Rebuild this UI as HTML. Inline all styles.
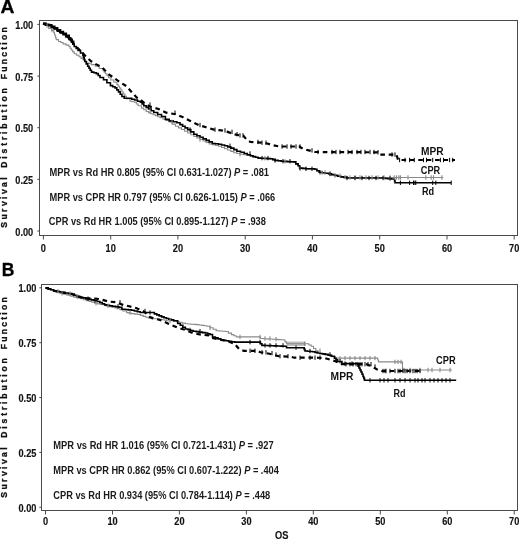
<!DOCTYPE html><html><head><meta charset="utf-8"><style>
    html,body{margin:0;padding:0;background:#fff;}
    svg{display:block;will-change:transform;}
    .tk{font-family:"Liberation Sans",sans-serif;font-size:10.40px;font-weight:bold;fill:#111;stroke:#111;stroke-width:0.15px;}
    .ax{stroke:#4a4a4a;stroke-width:1;fill:none;}
    .an{font-family:"Liberation Sans",sans-serif;font-size:10.2px;font-weight:bold;fill:#1a1a1a;}
    .lb{font-family:"Liberation Sans",sans-serif;font-size:10px;font-weight:bold;fill:#111;}
    .yl{font-family:"Liberation Sans",sans-serif;font-size:8.6px;font-weight:bold;fill:#111;stroke:#111;stroke-width:0.3px;}
    .pl{font-family:"Liberation Sans",sans-serif;font-size:17px;font-weight:bold;fill:#000;}
    .rd{stroke:#000;stroke-width:1.6;fill:none;stroke-linejoin:miter;}
    .mpr{stroke:#000;stroke-width:2.2;fill:none;stroke-dasharray:4.6 3.8;}
    .cpr{stroke:#8a8a8a;stroke-width:1.1;fill:none;}
    .ct{stroke:#8a8a8a;stroke-width:1.1;fill:none;}
    .ck{stroke:#000;stroke-width:1;fill:none;}
    </style></head><body>
<svg width="520" height="539" viewBox="0 0 520 539">
<text transform="translate(0.4,13.1) scale(1.07,1)" class="pl" style="font-size:18px;stroke:#000;stroke-width:0.3px">A</text>
<text x="1.7" y="275.9" class="pl" style="font-size:17.5px;stroke:#000;stroke-width:0.3px">B</text>
<rect x="39.5" y="20.5" width="478" height="215" class="ax" stroke-width="1.2"/>
<rect x="41.5" y="284.5" width="476" height="226" class="ax" stroke-width="1.2"/>
<text x="33.2" y="235.5" class="tk" text-anchor="end" textLength="17.91" lengthAdjust="spacingAndGlyphs">0.00</text>
<path d="M37.3 231.0 H39.5" class="ax"/>
<text x="33.2" y="183.8" class="tk" text-anchor="end" textLength="17.91" lengthAdjust="spacingAndGlyphs">0.25</text>
<path d="M37.3 179.3 H39.5" class="ax"/>
<text x="33.2" y="132.2" class="tk" text-anchor="end" textLength="17.91" lengthAdjust="spacingAndGlyphs">0.50</text>
<path d="M37.3 127.7 H39.5" class="ax"/>
<text x="33.2" y="80.6" class="tk" text-anchor="end" textLength="17.91" lengthAdjust="spacingAndGlyphs">0.75</text>
<path d="M37.3 76.1 H39.5" class="ax"/>
<text x="33.2" y="28.9" class="tk" text-anchor="end" textLength="17.91" lengthAdjust="spacingAndGlyphs">1.00</text>
<path d="M37.3 24.4 H39.5" class="ax"/>
<path d="M43.4 235.5 V239.5" class="ax"/>
<text x="43.4" y="251.6" class="tk" text-anchor="middle" textLength="5.12" lengthAdjust="spacingAndGlyphs">0</text>
<path d="M110.7 235.5 V239.5" class="ax"/>
<text x="110.7" y="251.6" class="tk" text-anchor="middle" textLength="10.23" lengthAdjust="spacingAndGlyphs">10</text>
<path d="M177.9 235.5 V239.5" class="ax"/>
<text x="177.9" y="251.6" class="tk" text-anchor="middle" textLength="10.23" lengthAdjust="spacingAndGlyphs">20</text>
<path d="M245.2 235.5 V239.5" class="ax"/>
<text x="245.2" y="251.6" class="tk" text-anchor="middle" textLength="10.23" lengthAdjust="spacingAndGlyphs">30</text>
<path d="M312.4 235.5 V239.5" class="ax"/>
<text x="312.4" y="251.6" class="tk" text-anchor="middle" textLength="10.23" lengthAdjust="spacingAndGlyphs">40</text>
<path d="M379.7 235.5 V239.5" class="ax"/>
<text x="379.7" y="251.6" class="tk" text-anchor="middle" textLength="10.23" lengthAdjust="spacingAndGlyphs">50</text>
<path d="M447.0 235.5 V239.5" class="ax"/>
<text x="447.0" y="251.6" class="tk" text-anchor="middle" textLength="10.23" lengthAdjust="spacingAndGlyphs">60</text>
<path d="M514.2 235.5 V239.5" class="ax"/>
<text x="514.2" y="251.6" class="tk" text-anchor="middle" textLength="10.23" lengthAdjust="spacingAndGlyphs">70</text>
<text x="36.4" y="511.8" class="tk" text-anchor="end" textLength="17.91" lengthAdjust="spacingAndGlyphs">0.00</text>
<path d="M39.3 507.3 H41.5" class="ax"/>
<text x="36.4" y="456.9" class="tk" text-anchor="end" textLength="17.91" lengthAdjust="spacingAndGlyphs">0.25</text>
<path d="M39.3 452.4 H41.5" class="ax"/>
<text x="36.4" y="402.1" class="tk" text-anchor="end" textLength="17.91" lengthAdjust="spacingAndGlyphs">0.50</text>
<path d="M39.3 397.6 H41.5" class="ax"/>
<text x="36.4" y="347.2" class="tk" text-anchor="end" textLength="17.91" lengthAdjust="spacingAndGlyphs">0.75</text>
<path d="M39.3 342.7 H41.5" class="ax"/>
<text x="36.4" y="292.3" class="tk" text-anchor="end" textLength="17.91" lengthAdjust="spacingAndGlyphs">1.00</text>
<path d="M39.3 287.8 H41.5" class="ax"/>
<path d="M45.5 510.5 V514.5" class="ax"/>
<text x="45.5" y="525.0" class="tk" text-anchor="middle" textLength="5.12" lengthAdjust="spacingAndGlyphs">0</text>
<path d="M112.5 510.5 V514.5" class="ax"/>
<text x="112.5" y="525.0" class="tk" text-anchor="middle" textLength="10.23" lengthAdjust="spacingAndGlyphs">10</text>
<path d="M179.4 510.5 V514.5" class="ax"/>
<text x="179.4" y="525.0" class="tk" text-anchor="middle" textLength="10.23" lengthAdjust="spacingAndGlyphs">20</text>
<path d="M246.4 510.5 V514.5" class="ax"/>
<text x="246.4" y="525.0" class="tk" text-anchor="middle" textLength="10.23" lengthAdjust="spacingAndGlyphs">30</text>
<path d="M313.3 510.5 V514.5" class="ax"/>
<text x="313.3" y="525.0" class="tk" text-anchor="middle" textLength="10.23" lengthAdjust="spacingAndGlyphs">40</text>
<path d="M380.3 510.5 V514.5" class="ax"/>
<text x="380.3" y="525.0" class="tk" text-anchor="middle" textLength="10.23" lengthAdjust="spacingAndGlyphs">50</text>
<path d="M447.3 510.5 V514.5" class="ax"/>
<text x="447.3" y="525.0" class="tk" text-anchor="middle" textLength="10.23" lengthAdjust="spacingAndGlyphs">60</text>
<path d="M514.2 510.5 V514.5" class="ax"/>
<text x="514.2" y="525.0" class="tk" text-anchor="middle" textLength="10.23" lengthAdjust="spacingAndGlyphs">70</text>
<text class="yl" transform="translate(7.3,227.70) rotate(-90)" textLength="50.40" lengthAdjust="spacing">Survival</text>
<text class="yl" transform="translate(7.3,167.70) rotate(-90)" textLength="79.45" lengthAdjust="spacing">Distribution</text>
<text class="yl" transform="translate(7.3,79.25) rotate(-90)" textLength="51.95" lengthAdjust="spacing">Function</text>
<text class="yl" transform="translate(7.3,497.70) rotate(-90)" textLength="50.40" lengthAdjust="spacing">Survival</text>
<text class="yl" transform="translate(7.3,437.70) rotate(-90)" textLength="79.45" lengthAdjust="spacing">Distribution</text>
<text class="yl" transform="translate(7.3,349.25) rotate(-90)" textLength="51.95" lengthAdjust="spacing">Function</text>
<text x="275" y="539.3" class="tk" style="font-size:10.4px" textLength="13.4" lengthAdjust="spacingAndGlyphs">OS</text>
<path class="cpr" d="M43.0 23.5H45.8 V25.5H48.7 V28.4H51.5 V30.1H53.8 V32.5H54.4 V34.2H55.0 V36.0H55.6 V37.8H56.2 V39.6H58.5 V41.5H60.8 V42.5H63.1 V43.9H66.0 V45.1H68.9 V46.5H70.1 V48.2H71.2 V50.0H72.7 V51.9H74.2 V53.8H76.6 V55.2H79.0 V56.7H81.0 V58.4H83.1 V60.0H85.0 V61.5H86.9 V63.1H89.2 V63.8H91.5 V64.6H95.4 V66.2H99.2 V68.5H103.1 V70.8H104.2 V72.3H105.4 V73.8H107.0 V75.8H108.5 V77.7H110.8 V80.0H113.8 V82.3H116.9 V84.6H118.2 V86.3H119.5 V88.0H120.8 V90.0H122.0 V92.0H123.3 V94.0H124.9 V96.4H126.5 V98.8H130.0 V101.2H132.3 V101.8H134.6 V102.3H136.3 V104.0H138.1 V105.8H141.5 V108.1H143.8 V109.8H146.2 V111.5H148.5 V112.7H150.8 V113.8H153.1 V114.7H155.4 V115.6H157.7 V116.7H160.0 V117.8H163.1 V119.2H166.1 V120.5H169.2 V121.9H172.3 V124.1H175.4 V126.3H178.4 V127.9H181.5 V129.5H184.6 V131.3H187.7 V133.0H190.8 V134.8H193.9 V136.4H196.9 V137.9H200.0 V139.5H203.1 V141.0H206.1 V142.5H209.2 V144.0H212.3 V144.8H215.4 V145.5H218.5 V146.3H221.6 V147.5H224.6 V148.8H227.7 V150.0H230.8 V151.4H233.8 V152.8H236.9 V153.5H240.0 V154.2H243.5 V154.8H246.9 V155.4H250.4 V156.0H253.0 V156.8H255.5 V157.5H258.1 V158.3H261.2 V158.5H264.2 V158.7H267.3 V158.8H270.4 V159.0H272.7 V159.8H275.0 V160.6H278.1 V161.0H281.2 V161.4H284.3 V161.6H287.4 V161.8H290.4 V161.9H293.5 V162.1H295.8 V164.1H298.1 V166.0H299.6 V168.3H302.7 V168.7H305.8 V169.0H314.6 V169.4H316.9 V170.9H319.2 V172.5H322.3 V173.0H325.4 V173.5H328.5 V174.0H331.6 V174.8H334.6 V175.6H337.7 V176.3H340.8 V177.1H346.9 V177.5H443.4 V177.5"/>
<path class="rd" d="M43.0 23.5H45.8 V24.9H48.7 V25.5H51.5 V27.2H54.4 V29.0H57.3 V31.3H60.2 V33.0H63.1 V34.7H66.0 V37.0H68.9 V39.4H71.5 V42.0H72.8 V44.2H74.2 V46.5H76.2 V48.5H78.1 V50.5H80.5 V53.0H82.9 V55.5H83.5 V57.5H84.2 V59.5H84.8 V61.5H86.2 V63.9H87.7 V66.3H89.0 V68.2H90.2 V70.2H91.5 V72.1H93.9 V72.8H96.3 V73.6H98.2 V75.5H100.0 V77.5H103.5 V79.8H106.9 V82.7H110.4 V85.6H112.7 V86.8H115.0 V87.9H116.8 V89.9H118.5 V91.9H120.2 V94.2H121.9 V96.5H124.2 V98.3H128.8 V98.3H131.7 V99.2H134.6 V100.0H137.5 V101.2H140.4 V102.3H142.1 V104.0H143.8 V105.8H146.2 V107.4H148.5 V109.0H151.2 V110.8H153.8 V112.5H157.7 V114.5H161.5 V116.5H165.4 V119.4H169.2 V120.9H173.1 V121.7H176.9 V122.8H180.0 V124.6H182.6 V126.3H185.1 V127.9H187.7 V129.6H190.8 V131.9H193.8 V134.2H196.9 V135.8H200.0 V137.3H203.1 V138.9H206.2 V140.4H209.2 V141.9H212.3 V143.5H215.4 V143.8H218.5 V144.2H221.6 V145.0H224.6 V145.8H227.7 V146.9H230.8 V148.1H233.9 V149.6H236.9 V151.2H240.6 V152.3H244.2 V153.5H247.3 V154.7H250.4 V155.8H253.0 V156.6H255.5 V157.3H258.1 V158.1H261.2 V158.3H264.2 V158.4H267.3 V158.6H270.4 V158.8H272.7 V159.6H275.0 V160.4H278.1 V160.8H281.2 V161.2H284.3 V161.4H287.4 V161.6H290.4 V161.7H293.5 V161.9H295.8 V163.9H298.1 V165.8H299.6 V168.1H302.7 V168.4H305.8 V168.8H314.6 V169.2H316.9 V170.8H319.2 V172.3H322.3 V172.8H325.4 V173.3H328.5 V173.8H331.6 V174.6H334.6 V175.4H337.7 V176.2H340.8 V176.9H343.9 V177.4H346.9 V178.0H385.0 V178.5H388.1 V178.7H391.1 V179.0H394.2 V179.2H394.6 V181.0H395.0 V182.8H451.2 V182.8"/>
<path class="mpr" d="M43.0 23.5 L45.8 24.6 L48.7 25.2 L51.5 26.5 L54.4 28.1 L57.3 30.0 L60.2 31.8 L63.1 33.5 L66.0 35.5 L68.9 38.0 L73.3 43.2 L77.1 47.5 L81.9 52.2 L86.7 57.4 L91.5 61.5 L96.3 64.4 L102.1 67.3 L104.6 70.0 L109.2 74.6 L115.0 78.7 L120.8 82.7 L126.5 86.2 L130.0 90.2 L133.5 94.2 L136.9 97.7 L141.5 100.6 L146.2 104.6 L150.8 106.9 L157.7 108.7 L160.0 109.6 L166.2 112.7 L175.4 114.2 L183.1 117.3 L190.8 121.2 L198.5 125.0 L206.2 127.3 L213.8 129.6 L221.5 130.4 L227.7 131.9 L233.8 134.2 L240.0 135.4 L243.5 135.8 L246.5 139.6 L250.4 141.9 L261.2 142.7 L267.3 143.5 L271.9 145.0 L279.6 146.5 L299.6 146.5 L302.7 148.8 L308.8 150.4 L315.0 152.0 L377.7 152.3 L379.2 154.6 L396.5 154.6 L398.1 160.0 L455.0 160.0"/>
<path class="rd" style="stroke-width:2.2" d="M43.0 23.5H45.8 V24.6H48.7 V25.2H51.5 V26.5H54.4 V28.1H57.3 V30.0H60.2 V31.8H63.1 V33.5H66.0 V35.5H68.9 V38.0H70.4 V39.7H71.8 V41.5H73.3 V43.2"/>
<path class="ct" d="M47.0 23.3 V27.7M52.0 27.9 V32.3M150.0 109.3 V113.7M172.0 119.7 V124.1M200.0 137.3 V141.7M240.0 152.0 V156.4M265.0 156.1 V160.5M285.0 159.2 V163.6M300.0 166.1 V170.5M322.0 170.3 V174.7M325.0 170.3 V174.7M330.0 171.8 V176.2M335.0 173.4 V177.8M340.0 173.4 V177.8M345.0 174.9 V179.3M350.0 175.3 V179.7M355.0 175.3 V179.7M360.0 175.3 V179.7M366.0 175.3 V179.7M372.0 175.3 V179.7M378.0 175.3 V179.7M384.0 175.3 V179.7M390.0 175.3 V179.7M394.2 175.3 V179.7M396.5 175.3 V179.7M398.8 175.3 V179.7M400.4 175.3 V179.7M408.0 175.3 V179.7M425.8 175.3 V179.7M431.2 175.3 V179.7M433.5 175.3 V179.7M441.9 175.3 V179.7"/>
<path class="ck" d="M190.0 127.4 V131.8M230.0 143.6 V148.0M250.0 151.3 V155.7M262.0 155.9 V160.3M268.0 155.9 V160.3M275.0 158.2 V162.6M283.0 159.0 V163.4M290.0 159.0 V163.4M300.0 165.9 V170.3M306.0 166.6 V171.0M312.0 166.6 V171.0M320.0 170.1 V174.5M330.0 171.6 V176.0M347.0 175.8 V180.2M355.0 175.8 V180.2M362.0 175.8 V180.2M369.0 175.8 V180.2M376.0 175.8 V180.2M383.0 175.8 V180.2M390.0 176.3 V180.7M400.4 180.6 V185.0M409.6 180.6 V185.0M413.5 180.6 V185.0M415.0 180.6 V185.0M415.8 180.6 V185.0M432.7 180.6 V185.0M435.8 180.6 V185.0M451.2 180.6 V185.0M150.0 102.4 V106.8M175.0 110.5 V114.9M200.0 122.8 V127.2M215.0 127.4 V131.8M225.0 128.2 V132.6M232.0 129.7 V134.1M237.0 132.0 V136.4M240.0 133.2 V137.6M243.0 133.2 V137.6M258.0 139.7 V144.1M262.0 140.5 V144.9M266.0 140.5 V144.9M282.0 144.3 V148.7M287.0 144.3 V148.7M291.0 144.3 V148.7M296.0 144.3 V148.7M300.0 144.3 V148.7M312.0 148.2 V152.6M318.0 149.8 V154.2M332.0 149.8 V154.2M336.0 149.8 V154.2M340.0 149.8 V154.2M348.0 149.8 V154.2M352.0 149.8 V154.2M357.0 149.8 V154.2M361.0 149.8 V154.2M365.0 149.8 V154.2M370.0 149.8 V154.2M374.0 149.8 V154.2M378.0 150.1 V154.5M392.0 152.4 V156.8M395.0 152.4 V156.8M399.6 157.8 V162.2M405.0 157.8 V162.2M409.6 157.8 V162.2M414.2 157.8 V162.2M423.5 157.8 V162.2M426.5 157.8 V162.2M432.7 157.8 V162.2M440.4 157.8 V162.2M443.5 157.8 V162.2M449.6 157.8 V162.2M452.7 157.8 V162.2"/>
<path class="cpr" d="M45.5 287.7H48.2 V288.9H50.8 V290.0H53.5 V291.2H56.8 V292.3H60.0 V293.4H63.5 V294.3H66.9 V295.3H70.4 V296.2H73.9 V297.1H77.3 V297.9H80.8 V298.8H83.6 V299.7H86.3 V300.6H89.1 V301.4H91.8 V302.3H94.6 V303.2H97.7 V303.9H100.8 V304.5H105.0 V305.8H109.4 V306.6H111.8 V307.2H114.2 V307.8H117.1 V308.7H120.0 V309.6H122.9 V311.0H126.7 V312.6H129.1 V313.1H131.5 V313.6H134.7 V314.1H137.9 V314.5H140.5 V315.4H143.2 V316.4H145.8 V317.3H148.7 V318.1H151.5 V318.8H159.2 V319.2H161.8 V319.7H164.3 V320.2H166.9 V320.7H173.7 V321.2H176.4 V321.8H179.2 V322.3H182.3 V323.1H185.4 V323.8H188.1 V324.0H190.8 V324.2H193.5 V324.4H196.2 V324.6H198.9 V325.0H201.6 V325.4H204.2 V325.8H206.9 V326.2H210.0 V327.7H213.1 V329.2H216.2 V330.8H219.3 V331.0H222.3 V331.3H225.4 V331.5H228.4 V333.1H231.5 V334.6H233.8 V335.8H236.2 V336.9H257.3 V336.9H260.4 V338.5H263.5 V338.7H266.5 V338.9H269.6 V339.0H272.7 V339.2H275.4 V339.4H278.1 V339.6H280.8 V339.8H283.5 V340.0H285.0 V341.9H286.5 V343.8H306.5 V343.8H308.9 V345.0H311.2 V346.2H313.5 V348.5H315.8 V350.8H318.1 V352.3H320.4 V353.8H323.3 V354.2H326.3 V354.6H329.2 V355.0H332.3 V356.6H335.4 V358.1H376.9 V358.1H377.7 V360.0H378.5 V361.9H402.5 V361.9H402.5 V363.9H402.5 V365.9H402.5 V368.0H402.5 V370.0H451.9 V370.0"/>
<path class="rd" d="M45.5 287.7H48.2 V288.7H50.8 V289.7H53.5 V290.7H56.4 V291.3H59.3 V291.9H62.2 V292.4H65.1 V293.0H68.5 V293.6H72.0 V294.1H74.3 V295.2H76.6 V296.4H79.7 V297.2H82.7 V297.9H85.8 V298.7H88.5 V299.3H91.2 V299.9H93.9 V300.5H96.8 V301.5H99.8 V302.5H102.2 V303.7H104.6 V304.9H107.2 V305.4H109.7 V305.8H112.3 V306.3H115.7 V306.8H119.0 V307.3H121.9 V309.2H125.1 V309.5H128.3 V309.9H131.5 V310.2H134.4 V311.0H137.3 V311.7H140.2 V312.5H151.5 V312.5H154.4 V313.9H156.8 V314.9H159.2 V315.9H161.6 V316.9H164.0 V317.8H166.4 V318.5H168.8 V319.2H171.2 V319.9H173.7 V320.7H177.7 V323.5H180.3 V325.3H182.8 V327.2H185.4 V329.0H188.0 V329.7H190.5 V330.5H193.1 V331.2H196.2 V331.6H199.2 V332.1H202.3 V332.6H205.4 V333.0H207.7 V333.8H210.0 V334.5H212.5 V337.0H215.3 V337.9H218.0 V338.9H220.8 V339.8H223.4 V340.3H225.9 V340.8H228.5 V341.3H231.6 V341.7H234.6 V342.1H258.8 V342.1H260.4 V343.8H261.9 V345.4H265.0 V345.5H268.1 V345.6H271.2 V345.7H274.2 V345.9H277.3 V346.0H280.4 V346.1H283.5 V346.2H286.5 V347.7H303.5 V347.7H304.2 V349.4H305.0 V351.0H307.6 V351.3H310.1 V351.5H312.7 V351.8H315.0 V352.4H317.3 V353.0H319.9 V353.5H322.4 V353.9H325.0 V354.4H328.1 V355.3H331.3 V356.2H334.4 V358.3H336.0 V359.9H337.6 V361.5H341.9 V363.6H357.5 V364.2H358.2 V366.1H359.0 V368.0H360.0 V370.0H361.0 V372.0H362.0 V374.2H363.0 V376.5H363.8 V378.4H364.5 V380.3H456.2 V380.3"/>
<path class="mpr" d="M45.5 287.7 L53.5 290.7 L65.1 293.0 L72.0 294.1 L76.6 296.4 L85.8 298.3 L95.0 298.5 L101.7 299.6 L108.5 301.5 L116.2 302.3 L122.3 304.6 L129.2 306.3 L136.1 308.0 L143.0 311.0 L147.0 314.0 L150.0 317.0 L154.4 318.8 L159.2 319.7 L164.0 321.6 L168.8 324.0 L173.7 326.0 L178.5 327.9 L185.4 330.0 L193.1 333.1 L200.8 334.6 L208.5 335.4 L211.5 337.7 L217.7 339.2 L228.5 341.5 L234.6 343.8 L239.2 349.2 L243.8 350.8 L257.3 350.8 L260.4 352.3 L266.5 353.1 L272.7 354.6 L278.8 356.2 L291.2 356.9 L294.2 357.7 L315.8 357.7 L325.0 358.1 L335.4 361.2 L341.5 364.2 L366.2 364.2 L372.3 366.5 L378.5 370.4 L381.5 371.0 L421.9 371.0"/>
<path class="ct" d="M58.0 289.0 V293.4M62.0 291.2 V295.6M70.0 291.2 V295.6M77.0 294.0 V298.4M96.0 301.0 V305.4M108.0 303.6 V308.0M130.0 310.4 V314.8M170.0 318.5 V322.9M210.0 325.5 V329.9M240.0 334.7 V339.1M260.0 334.7 V339.1M265.0 336.3 V340.7M270.0 336.3 V340.7M276.0 337.0 V341.4M288.0 341.6 V346.0M290.0 341.6 V346.0M292.0 341.6 V346.0M294.0 341.6 V346.0M296.0 341.6 V346.0M298.0 341.6 V346.0M300.0 341.6 V346.0M302.0 341.6 V346.0M304.0 341.6 V346.0M305.0 341.6 V346.0M320.0 348.6 V353.0M340.0 355.9 V360.3M345.0 355.9 V360.3M350.0 355.9 V360.3M355.0 355.9 V360.3M360.0 355.9 V360.3M365.0 355.9 V360.3M370.0 355.9 V360.3M375.0 355.9 V360.3M395.0 359.7 V364.1M398.0 359.7 V364.1M401.0 359.7 V364.1M404.0 367.8 V372.2M410.0 367.8 V372.2M420.0 367.8 V372.2M428.0 367.8 V372.2M432.0 367.8 V372.2M440.0 367.8 V372.2M450.0 367.8 V372.2"/>
<path class="ck" d="M88.0 296.5 V300.9M95.0 298.3 V302.7M118.0 304.1 V308.5M150.0 310.3 V314.7M200.0 329.0 V333.4M250.0 339.9 V344.3M260.0 339.9 V344.3M265.0 343.2 V347.6M270.0 343.2 V347.6M276.0 343.2 V347.6M283.0 343.2 V347.6M296.0 345.5 V349.9M310.0 348.8 V353.2M330.0 352.2 V356.6M345.0 361.4 V365.8M352.0 361.4 V365.8M370.0 378.1 V382.5M380.0 378.1 V382.5M384.0 378.1 V382.5M388.0 378.1 V382.5M395.0 378.1 V382.5M400.0 378.1 V382.5M405.0 378.1 V382.5M410.0 378.1 V382.5M415.0 378.1 V382.5M418.0 378.1 V382.5M422.0 378.1 V382.5M425.0 378.1 V382.5M430.0 378.1 V382.5M434.0 378.1 V382.5M438.0 378.1 V382.5M442.0 378.1 V382.5M446.0 378.1 V382.5M450.0 378.1 V382.5M120.0 300.1 V304.5M145.0 308.8 V313.2M190.0 327.8 V332.2M250.0 348.6 V353.0M255.0 348.6 V353.0M262.0 350.1 V354.5M266.0 350.1 V354.5M272.0 350.9 V355.3M276.0 352.4 V356.8M280.0 354.0 V358.4M288.0 354.0 V358.4M300.0 355.5 V359.9M310.0 355.5 V359.9M315.0 355.5 V359.9M320.0 355.5 V359.9M340.0 359.0 V363.4M346.0 362.0 V366.4M350.0 362.0 V366.4M353.0 362.0 V366.4M356.0 362.0 V366.4M358.0 362.0 V366.4M360.0 362.0 V366.4M362.0 362.0 V366.4M365.0 362.0 V366.4M368.0 362.0 V366.4M371.0 362.0 V366.4M375.0 364.3 V368.7M383.0 368.8 V373.2M385.0 368.8 V373.2M386.0 368.8 V373.2M390.0 368.8 V373.2M395.0 368.8 V373.2M398.0 368.8 V373.2M400.0 368.8 V373.2M403.0 368.8 V373.2M405.0 368.8 V373.2M407.0 368.8 V373.2M410.0 368.8 V373.2M413.0 368.8 V373.2M415.0 368.8 V373.2M417.0 368.8 V373.2M420.0 368.8 V373.2"/>
<text class="an" x="49.5" y="175.5" textLength="219.5" lengthAdjust="spacingAndGlyphs">MPR vs Rd HR 0.805 (95% CI 0.631-1.027) <tspan font-style="italic">P</tspan> = .081</text>
<text class="an" x="49.5" y="200.6" textLength="225.8" lengthAdjust="spacingAndGlyphs">MPR vs CPR HR 0.797 (95% CI 0.626-1.015) <tspan font-style="italic">P</tspan> = .066</text>
<text class="an" x="48.8" y="224.9" textLength="217.1" lengthAdjust="spacingAndGlyphs">CPR vs Rd HR 1.005 (95% CI 0.895-1.127) <tspan font-style="italic">P</tspan> = .938</text>
<text class="an" x="53.3" y="448.9" textLength="220.4" lengthAdjust="spacingAndGlyphs">MPR vs Rd HR 1.016 (95% CI 0.721-1.431) <tspan font-style="italic">P</tspan> = .927</text>
<text class="an" x="53.3" y="473.7" textLength="225.6" lengthAdjust="spacingAndGlyphs">MPR vs CPR HR 0.862 (95% CI 0.607-1.222) <tspan font-style="italic">P</tspan> = .404</text>
<text class="an" x="53.3" y="498.6" textLength="216.9" lengthAdjust="spacingAndGlyphs">CPR vs Rd HR 0.934 (95% CI 0.784-1.114) <tspan font-style="italic">P</tspan> = .448</text>
<text class="lb" x="421.0" y="154.9" textLength="22.6" lengthAdjust="spacingAndGlyphs">MPR</text>
<text class="lb" x="420.8" y="173.8" textLength="19.4" lengthAdjust="spacingAndGlyphs">CPR</text>
<text class="lb" x="422.0" y="195.4" textLength="12.2" lengthAdjust="spacingAndGlyphs">Rd</text>
<text class="lb" x="436.0" y="364.4" textLength="19.6" lengthAdjust="spacingAndGlyphs">CPR</text>
<text class="lb" x="330.6" y="379.9" textLength="22.8" lengthAdjust="spacingAndGlyphs">MPR</text>
<text class="lb" x="393.6" y="397.1" textLength="12.0" lengthAdjust="spacingAndGlyphs">Rd</text>
</svg></body></html>
